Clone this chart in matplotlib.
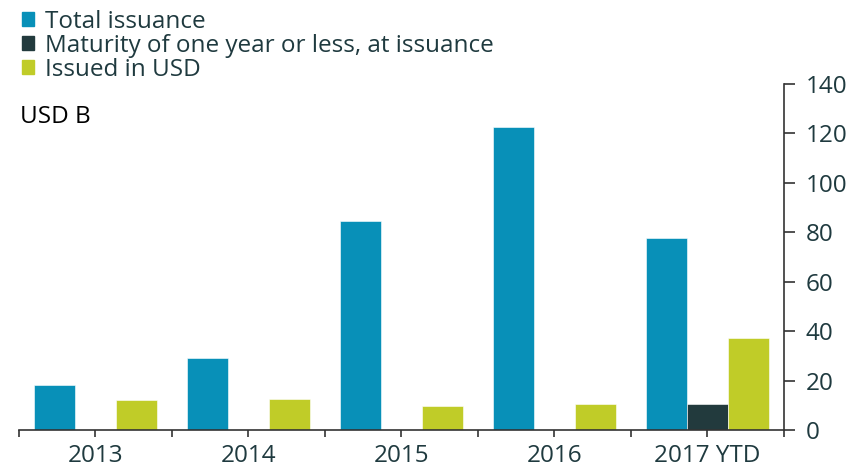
import numpy as np
import matplotlib.pyplot as plt
from matplotlib.patches import Patch
from matplotlib.ticker import FixedLocator, NullFormatter

# Issuance by year, USD billions
years = ['2013', '2014', '2015', '2016', '2017 YTD']
total_issuance = [18.3, 29.2, 84.4, 122.6, 77.5]
short_maturity = [0, 0, 0, 0, 10.5]
issued_usd = [12.2, 12.6, 9.7, 10.6, 37.3]

BLUE = '#0890b8'
DARK = '#223a3d'
GREEN = '#c0cc28'
TEXT = '#1f3a3f'

plt.rcParams['font.family'] = ['Open Sans', 'DejaVu Sans']

fig = plt.figure(figsize=(8.65, 4.68), dpi=100)
ax = fig.add_axes([0.022, 0.0812, 0.884, 0.7393])

x = np.arange(len(years))
w = 0.268
ax.bar(x - w, total_issuance, w, color=BLUE, edgecolor='white', linewidth=0.4)
ax.bar(x, short_maturity, w, color=DARK, edgecolor='white', linewidth=0.4)
ax.bar(x + w, issued_usd, w, color=GREEN, edgecolor='white', linewidth=0.4)

ax.set_xlim(-0.5, len(years) - 0.5)
ax.set_ylim(0, 140)

# right-hand value axis, bottom category axis
ax.yaxis.tick_right()
ax.set_yticks(range(0, 141, 20))
ax.spines['left'].set_visible(False)
ax.spines['top'].set_visible(False)
for s in ('right', 'bottom'):
    ax.spines[s].set_color('#333333')
    ax.spines[s].set_linewidth(1.2)

ax.xaxis.set_major_locator(FixedLocator(np.arange(-0.5, len(years), 1.0)))
ax.xaxis.set_major_formatter(NullFormatter())
ax.xaxis.set_minor_locator(FixedLocator(x))
ax.set_xticklabels(years, minor=True)
ax.tick_params(axis='x', which='both', length=5, width=1.2, color='#333333',
               labelsize=17.5, labelcolor=TEXT, pad=5)
ax.tick_params(axis='y', length=8, width=1.2, color='#333333',
               labelsize=17.5, labelcolor=TEXT, pad=8)

fig.text(0.023, 0.75, 'USD B', fontsize=17.5, color='black', va='center')

handles = [Patch(color=BLUE), Patch(color=DARK), Patch(color=GREEN)]
labels = ['Total issuance', 'Maturity of one year or less, at issuance', 'Issued in USD']
fig.legend(handles, labels, loc='upper left', bbox_to_anchor=(0.014, 1.0),
           frameon=False, fontsize=17.5, labelcolor=TEXT, handlelength=0.5,
           handleheight=0.5, handletextpad=0.45, labelspacing=0.0,
           borderaxespad=0)

fig.savefig('out.png', dpi=100)
